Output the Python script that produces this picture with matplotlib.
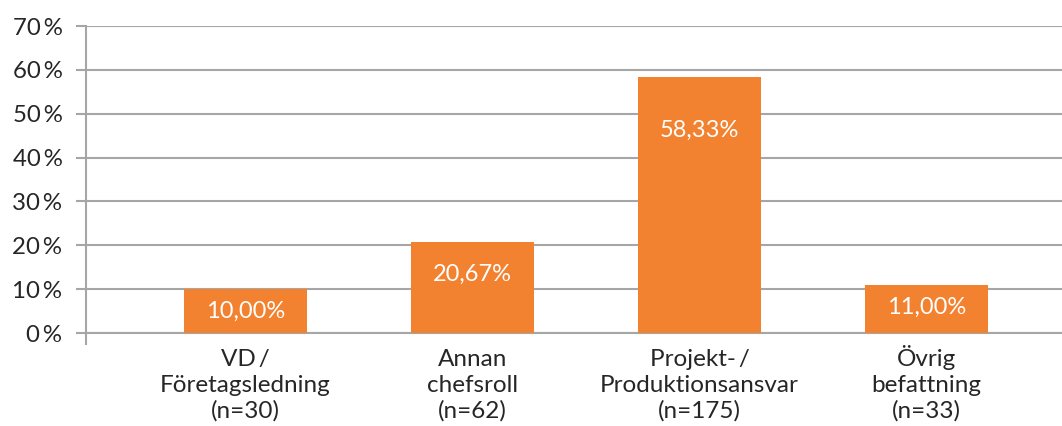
import matplotlib
matplotlib.use("Agg")
import matplotlib.pyplot as plt
import matplotlib.transforms as mtransforms
from matplotlib.ticker import MultipleLocator, FuncFormatter

# data
categories = ["VD\u2009/\nFöretagsledning\n(n=30)",
              "Annan\nchefsroll\n(n=62)",
              "Projekt-\u2009/\nProduktionsansvar\n(n=175)",
              "Övrig\nbefattning\n(n=33)"]
values = [10.00, 20.67, 58.33, 11.00]
value_labels = ["10,00%", "20,67%", "58,33%", "11,00%"]

# label placement below bar top (points), style only
label_drop = [16, 23, 38, 16.5]

bar_color = "#F28230"
grid_color = "#A6A6A6"
text_color = "#262626"

plt.rcParams["font.family"] = ["Lato", "DejaVu Sans"]

fig = plt.figure(figsize=(10.62, 4.26), dpi=100)
ax = fig.add_axes([86 / 1062, 1 - 333 / 426, (1062 - 86) / 1062, (333 - 26) / 426])

x = list(range(len(categories)))
ax.bar(x, values, width=0.542, color=bar_color, zorder=3)

for xi, v, lab, d in zip(x, values, value_labels, label_drop):
    ax.annotate(lab, (xi, v), xytext=(0, -d), textcoords="offset points",
                ha="center", va="center", color="white", fontsize=17, zorder=4)

ax.set_ylim(0, 70)
ax.set_xlim(-0.7026, 3.597)
ax.yaxis.set_major_locator(MultipleLocator(10))
ax.yaxis.set_major_formatter(FuncFormatter(lambda v, p: f"{int(v)}\u2009%"))
ax.grid(axis="y", color=grid_color, linewidth=1.5, zorder=0)
ax.tick_params(axis="y", length=7, width=1.5, color=grid_color, labelsize=17.3,
               labelcolor=text_color, pad=10)

# category labels, last-line baselines aligned
ax.set_xticks(x)
ax.set_xticklabels([])
ax.tick_params(axis="x", length=0)
trans = mtransforms.blended_transform_factory(ax.transData, ax.transAxes)
trans = trans + mtransforms.ScaledTranslation(0, -61 / 72, fig.dpi_scale_trans)
for xi, cat in zip(x, categories):
    ax.text(xi, 0, cat, transform=trans, ha="center", va="baseline",
            multialignment="center", fontsize=17.5, color=text_color,
            linespacing=1.26)

for s in ["top", "right"]:
    ax.spines[s].set_visible(False)
ax.spines["left"].set_color(grid_color)
ax.spines["left"].set_linewidth(1.5)
ax.spines["left"].set_bounds(-2.5, 70)
ax.spines["bottom"].set_color(grid_color)
ax.spines["bottom"].set_linewidth(1.5)

fig.savefig("out.png", dpi=100)
